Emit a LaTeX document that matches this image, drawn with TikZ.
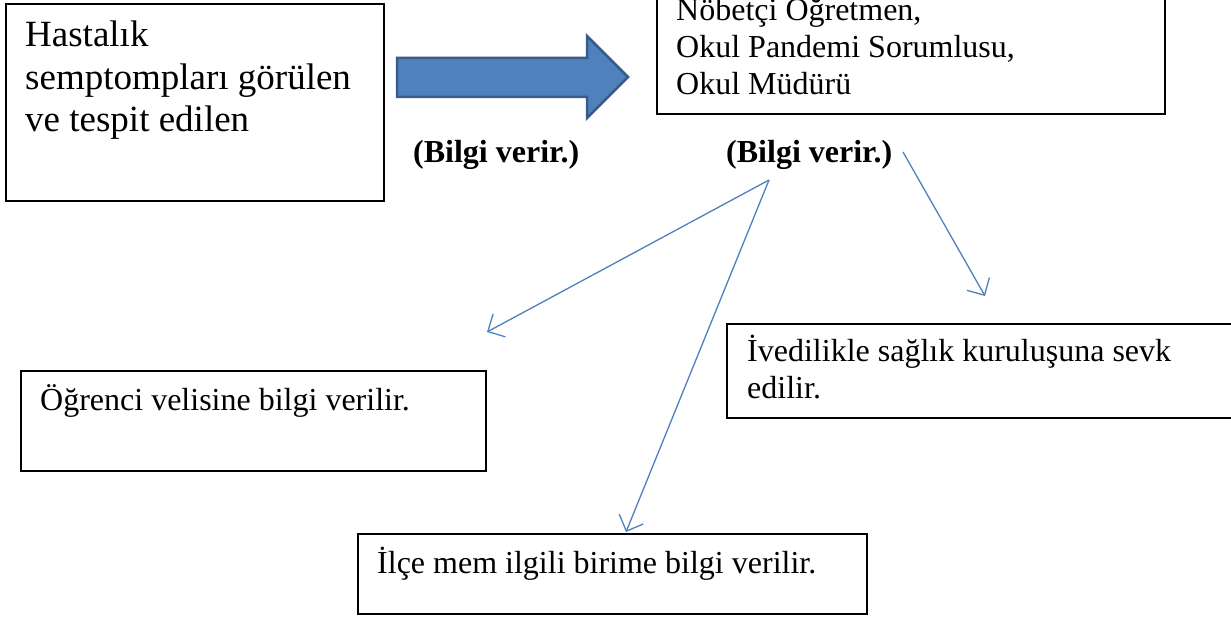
\documentclass[tikz,border=0pt]{standalone}
\usepackage{fontspec}
\setmainfont{Liberation Serif}
\usetikzlibrary{arrows.meta}
\definecolor{ablue}{HTML}{4F81BD}
\definecolor{aborder}{HTML}{385D8A}
\begin{document}
\begin{tikzpicture}[x=1pt,y=-1pt,
  box/.style={draw=black, line width=1.8pt, inner sep=0pt, anchor=north west},
  bigtxt/.style={font=\fontsize{37}{43}\selectfont, anchor=base west, inner sep=0pt},
  txt/.style={font=\fontsize{32}{37}\selectfont, anchor=base west, inner sep=0pt},
  lbl/.style={font=\fontsize{32}{37}\selectfont\bfseries, anchor=base west, inner sep=0pt},
  conn/.style={draw=ablue, line width=1.3pt, -{Straight Barb[length=13pt,width=26pt,line width=1.3pt]}}]
\useasboundingbox (0,0) rectangle (1231,617);
\fill[white] (0,0) rectangle (1231,617);

% boxes
\node[box, minimum width=378pt, minimum height=197pt] (b1) at (5,3) {};
\node[box, minimum width=508pt, minimum height=123pt] (b2) at (656,-10) {};
\node[box, minimum width=465pt, minimum height=100pt] (b3) at (20,370) {};
\node[box, minimum width=530pt, minimum height=94pt] (b4) at (726,323) {};
\node[box, minimum width=509pt, minimum height=80pt] (b5) at (357,533) {};

% texts
\node[bigtxt] (t1a) at (25,47) {Hastalık};
\node[bigtxt] (t1b) at (25,90) {semptompları görülen};
\node[bigtxt] (t1c) at (25,132) {ve tespit edilen};

\node[txt] (t2a) at (676,21) {Nöbetçi Öğretmen,};
\node[txt] (t2b) at (676,58) {Okul Pandemi Sorumlusu,};
\node[txt] (t2c) at (676,95) {Okul Müdürü};

\node[lbl] (l1) at (413,163) {(Bilgi verir.)};
\node[lbl] (l2) at (726,163) {(Bilgi verir.)};

\node[txt] (t3) at (40,410) {Öğrenci velisine bilgi verilir.};
\node[txt] (t4a) at (747,362) {İvedilikle sağlık kuruluşuna sevk};
\node[txt] (t4b) at (747,398) {edilir.};
\node[txt] (t5) at (377,573) {İlçe mem ilgili birime bilgi verilir.};

% big block arrow
\draw[fill=ablue, draw=aborder, line width=2.5pt, line join=miter]
  (397,58) -- (587,58) -- (587,36) -- (628,77) -- (587,118) -- (587,97) -- (397,97) -- cycle;

% connectors
\coordinate (s1) at (769,180);
\coordinate (s2) at (903,152);
\coordinate (e1) at (487,332);
\coordinate (e2) at (985,296);
\coordinate (e3) at (626,532);
\draw[conn] (s1) -- (e1);
\draw[conn] (s1) -- (e3);
\draw[conn] (s2) -- (e2);
\end{tikzpicture}
\end{document}
